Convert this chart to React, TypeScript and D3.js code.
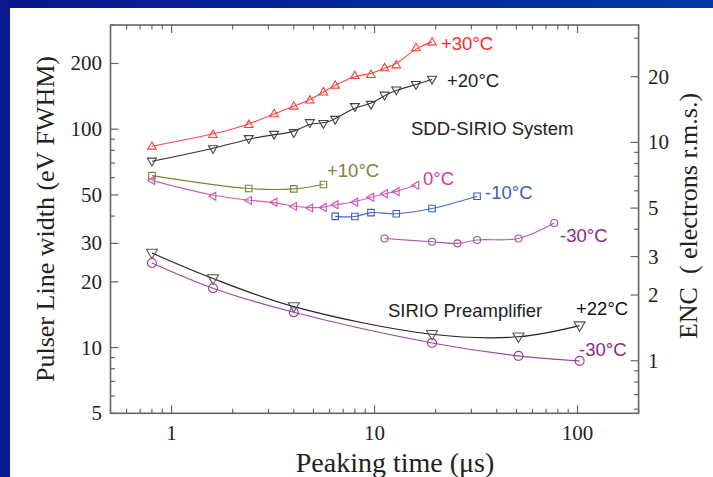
import * as d3 from "d3";

// peaking times (us) and pulser line width (eV FWHM)
const tSDD = [0.8, 1.6, 2.4, 3.2, 4.0, 4.8, 5.6, 6.4, 8.0, 9.6, 11.2, 12.8, 16.0, 19.2];
const sdd30 = [83.6, 94.5, 105, 117.7, 127.5, 136, 148, 159, 176, 178, 191, 197, 236, 251];
const sdd20 = [71.3, 81.3, 90.4, 94.6, 96.3, 107, 106, 110.8, 126.7, 129.8, 143, 151, 160, 169];
const t10 = [0.8, 2.4, 4.0, 5.6];
const sdd10 = [61.3, 53.5, 53.3, 55.8];
const t0 = [0.8, 1.6, 2.4, 3.2, 4.0, 4.8, 5.6, 6.4, 8.0, 9.6, 11.2, 12.8, 16.0];
const sdd0 = [58.2, 49.3, 47.2, 46.3, 44.3, 43.6, 43.8, 45.1, 46.3, 48.8, 50.6, 51.8, 55.4];
const tM10 = [6.4, 8.0, 9.6, 12.8, 19.2, 32];
const sddM10 = [39.9, 39.8, 41.5, 41.0, 43.3, 49.3];
const tM30 = [11.2, 19.2, 25.6, 32, 51.2, 76.8];
const sddM30 = [31.6, 30.5, 30.0, 31.1, 31.6, 37.2];
const tPre = [0.8, 1.6, 4.0, 19.2, 51.2, 102.4];
const pre22 = [27.1, 20.7, 15.4, 11.5, 11.2, 12.6];
const preM30 = [24.4, 18.7, 14.5, 10.5, 9.16, 8.69];

const xLabels = [1, 10, 100];
const yLabels = [5, 10, 20, 30, 50, 100, 200];
const encLabels = [1, 2, 3, 5, 10, 20];
const eVperENC = 8.7;

const serif = "'Liberation Serif', 'Times New Roman', serif";
const sans = "'Liberation Sans', Arial, sans-serif";

type Shape = "up" | "down" | "left" | "square" | "circle";

function marker(shape: Shape, s: number) {
  const h = s * 0.866;
  if (shape === "up") return `M0,${-h * 0.6}L${s / 2},${h * 0.4}L${-s / 2},${h * 0.4}Z`;
  if (shape === "down") return `M0,${h * 0.6}L${s / 2},${-h * 0.4}L${-s / 2},${-h * 0.4}Z`;
  if (shape === "left") return `M${-h * 0.6},0L${h * 0.4},${-s / 2}L${h * 0.4},${s / 2}Z`;
  if (shape === "square") return `M${-s / 2},${-s / 2}h${s}v${s}h${-s}Z`;
  const r = s / 2;
  return `M${r},0A${r},${r} 0 1,1 ${-r},0A${r},${r} 0 1,1 ${r},0Z`;
}

function App() {
  const W = 713;
  const H = 477;
  const x = d3.scaleLog().domain([0.5, 200]).range([110.5, 638.6]);
  const y = d3.scaleLog().domain([5, 300]).range([413.3, 25]);
  const yR = d3.scaleLog().domain([5 / eVperENC, 300 / eVperENC]).range([413.3, 25]);
  const [x0, x1] = x.range();
  const [yb, yt] = y.range();

  const series = [
    { t: tSDD, v: sdd30, shape: "up" as Shape, size: 8.5, color: "#ff3b3b", line: "#ff4a4a", basis: true },
    { t: tSDD, v: sdd20, shape: "down" as Shape, size: 9, color: "#444", line: "#333", basis: true },
    { t: t10, v: sdd10, shape: "square" as Shape, size: 6.5, color: "#80803a", line: "#80803a", basis: false },
    { t: t0, v: sdd0, shape: "left" as Shape, size: 8, color: "#d050b0", line: "#d060b8", basis: true },
    { t: tM10, v: sddM10, shape: "square" as Shape, size: 6.5, color: "#3d5fb8", line: "#4a68c0", basis: false },
    { t: tM30, v: sddM30, shape: "circle" as Shape, size: 7, color: "#a050a0", line: "#a860a8", basis: false },
    { t: tPre, v: pre22, shape: "down" as Shape, size: 11, color: "#555", line: "#222", basis: false },
    { t: tPre, v: preM30, shape: "circle" as Shape, size: 9, color: "#9a3a9a", line: "#9a4a9a", basis: false },
  ];

  const labels = [
    { text: "+30°C", x: 441, y: 50, color: "#ff2a2a" },
    { text: "+20°C", x: 447, y: 87, color: "#222" },
    { text: "SDD-SIRIO System", x: 411, y: 135, color: "#222" },
    { text: "+10°C", x: 327, y: 177, color: "#80803a" },
    { text: "0°C", x: 423, y: 185, color: "#cc3aa6" },
    { text: "-10°C", x: 485, y: 199, color: "#3d5fb0" },
    { text: "-30°C", x: 560, y: 242, color: "#8a2a86" },
    { text: "SIRIO Preamplifier", x: 388, y: 317, color: "#222" },
    { text: "+22°C", x: 576, y: 315, color: "#111" },
    { text: "-30°C", x: 579, y: 356, color: "#8a2a86" },
  ];

  const xTicks: number[] = [];
  for (const d of [0.1, 1, 10, 100]) for (let k = 1; k < 10; k++) {
    const v = d * k;
    if (v >= 0.5 && v <= 200) xTicks.push(+v.toFixed(2));
  }
  const yTicks: number[] = [];
  for (const d of [1, 10, 100]) for (let k = 1; k < 10; k++) {
    const v = d * k;
    if (v >= 5 && v <= 300) yTicks.push(v);
  }
  const encTicks: number[] = [];
  for (const d of [0.1, 1, 10]) for (let k = 1; k < 10; k++) {
    const v = +(d * k).toFixed(2);
    if (v >= yR.domain()[0] && v <= yR.domain()[1]) encTicks.push(v);
  }

  const axisColor = "#666";

  return (
    <svg width={W} height={H} style={{ position: "absolute", left: 0, top: 0 }}>
      <defs>
        <linearGradient id="band" x1="0" x2="1" y1="0" y2="0">
          <stop offset="0" stopColor="#0a168c" />
          <stop offset="1" stopColor="#0038a6" />
        </linearGradient>
      </defs>
      <rect x={0} y={0} width={W} height={H} fill="#fff" />
      <rect x={0} y={0} width={W} height={8} fill="url(#band)" />
      <rect x={0} y={0} width={10} height={H} fill="#0a1a8e" />

      {/* ticks */}
      <g stroke={axisColor} strokeWidth={1.2}>
        {xTicks.map((t, i) => {
          const len = xLabels.includes(t) ? 8 : 4.5;
          return (
            <g key={i}>
              <line x1={x(t)} x2={x(t)} y1={yb} y2={yb - len} />
              <line x1={x(t)} x2={x(t)} y1={yt} y2={yt + len} />
            </g>
          );
        })}
        {yTicks.map((v, i) => {
          const len = yLabels.includes(v) ? 8 : 4.5;
          return <line key={i} x1={x0} x2={x0 + len} y1={y(v)} y2={y(v)} />;
        })}
        {encTicks.map((v, i) => {
          const len = encLabels.includes(v) ? 8 : 4.5;
          return <line key={i} x1={x1} x2={x1 - len} y1={yR(v)} y2={yR(v)} />;
        })}
      </g>
      <rect x={x0} y={yt} width={x1 - x0} height={yb - yt} fill="none" stroke={axisColor} strokeWidth={1.6} />

      {/* tick labels */}
      <g fontFamily={serif} fontSize={21} fill="#222">
        {xLabels.map((t) => (
          <text key={t} x={x(t)} y={440} textAnchor="middle">{t}</text>
        ))}
        {yLabels.map((v) => (
          <text key={v} x={102} y={y(v) + 7} textAnchor="end">{v}</text>
        ))}
        {encLabels.map((v) => (
          <text key={v} x={648} y={yR(v) + 7} textAnchor="start">{v}</text>
        ))}
      </g>

      {/* axis titles */}
      <text x={395} y={472} textAnchor="middle" fontFamily={serif} fontSize={28} fill="#222">
        Peaking time (μs)
      </text>
      <text transform={`translate(54,219) rotate(-90)`} textAnchor="middle" fontFamily={serif} fontSize={26} fill="#222">
        Pulser Line width (eV FWHM)
      </text>
      <text transform={`translate(697,216) rotate(-90)`} textAnchor="middle" fontFamily={serif} fontSize={26} fill="#222" style={{ whiteSpace: "pre" }}>
        {"ENC  ( electrons r.m.s.)"}
      </text>

      {/* series */}
      {series.map((s, i) => {
        const pts = s.t.map((t, j) => [x(t), y(s.v[j])] as [number, number]);
        const gen = d3.line().curve(s.basis ? d3.curveBasis : d3.curveCatmullRom.alpha(0.5));
        return (
          <g key={i}>
            <path d={gen(pts) ?? ""} fill="none" stroke={s.line} strokeWidth={1.1} />
            {pts.map(([px, py], j) => (
              <path key={j} d={marker(s.shape, s.size)} transform={`translate(${px},${py})`} fill="none" stroke={s.color} strokeWidth={1.1} />
            ))}
          </g>
        );
      })}

      {/* annotations */}
      <g fontFamily={sans} fontSize={18.5}>
        {labels.map((l, i) => (
          <text key={i} x={l.x} y={l.y} fill={l.color}>{l.text}</text>
        ))}
      </g>
    </svg>
  );
}

export default App;
